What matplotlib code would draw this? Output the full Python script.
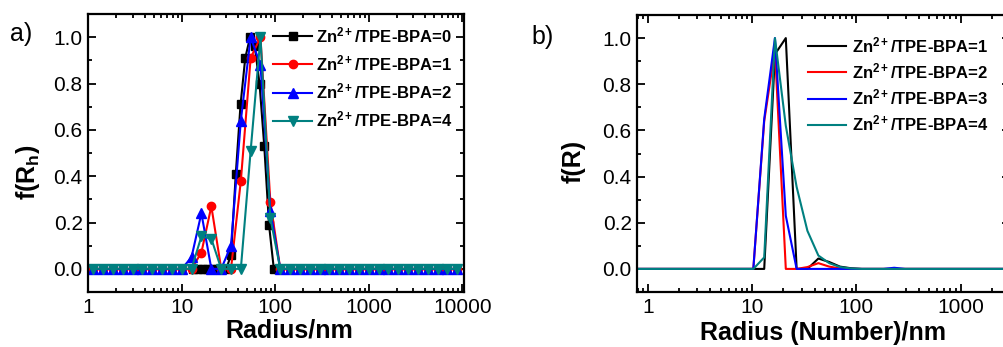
import numpy as np
import matplotlib
matplotlib.use("Agg")
import matplotlib.pyplot as plt
from matplotlib.ticker import MultipleLocator, FuncFormatter, LogLocator

plt.rcParams['font.family'] = ['Liberation Sans', 'DejaVu Sans']
plt.rcParams['mathtext.fontset'] = 'custom'
plt.rcParams['mathtext.rm'] = 'Liberation Sans'
plt.rcParams['mathtext.bf'] = 'Liberation Sans:bold'
plt.rcParams['mathtext.it'] = 'Liberation Sans:italic'

# ---- panel a : intensity distributions (markers) ----
r_grid = [1.13, 1.44, 1.83, 2.34, 2.98, 3.79, 4.83, 6.15, 7.85, 10.0,
          12.7, 16.2, 20.7, 26.4, 33.6, 42.8, 54.5, 69.4, 88.5, 113,
          144, 183, 233, 297, 378, 482, 614, 782, 997, 1270,
          1620, 2060, 2630, 3350, 4260, 5430, 6920, 8830]
f_r1 = [0]*11 + [0.07, 0.27, 0, 0, 0.38, 0.91, 1.0, 0.29] + [0]*19
f_r2 = [0]*10 + [0.05, 0.24, 0, 0, 0.10, 0.64, 1.0, 0.88, 0.25] + [0]*19
f_r4 = [0]*11 + [0.14, 0.13, 0, 0, 0, 0.51, 1.0, 0.22] + [0]*19

r_r0 = [13.2, 14.8, 16.7, 18.7, 21.0, 23.7, 26.6, 29.9, 33.6, 37.8,
        42.5, 47.7, 53.7, 60.3, 67.8, 76.2, 85.7, 96.4, 108]
f_r0 = [0, 0, 0, 0, 0, 0, 0, 0, 0.06, 0.41,
        0.71, 0.91, 1.0, 0.96, 0.80, 0.53, 0.19, 0, 0]

labels_a = [r'Zn$^{\mathbf{2+}}$/TPE-BPA=0', r'Zn$^{\mathbf{2+}}$/TPE-BPA=1',
            r'Zn$^{\mathbf{2+}}$/TPE-BPA=2', r'Zn$^{\mathbf{2+}}$/TPE-BPA=4']

# ---- panel b : number distributions (lines) ----
rb = [0.738, 0.938, 1.19, 1.51, 1.92, 2.44, 3.10, 3.94, 5.01, 6.37, 8.09,
      10.3, 13.1, 16.6, 21.1, 26.8, 34.0, 43.3, 55.0, 69.8, 88.7,
      113, 143, 182, 231, 294, 373, 474, 603, 766, 973,
      1240, 1570, 2000, 2540, 3220]
fb1 = [0]*11 + [0, 0, 0.93, 1.0, 0, 0, 0.045, 0.03, 0.01, 0.003] + [0]*15
fb2 = [0]*11 + [0, 0.64, 0.95, 0, 0, 0.008, 0.025, 0.01, 0.002, 0] + [0]*15
fb3 = [0]*11 + [0, 0.65, 1.0, 0.23, 0, 0, 0, 0, 0, 0] + [0, 0, 0, 0.005] + [0]*11
fb4 = [0]*11 + [0, 0.05, 1.0, 0.62, 0.355, 0.165, 0.058, 0.025, 0.008, 0.002] + [0]*15

labels_b = [r'Zn$^{\mathbf{2+}}$/TPE-BPA=1', r'Zn$^{\mathbf{2+}}$/TPE-BPA=2',
            r'Zn$^{\mathbf{2+}}$/TPE-BPA=3', r'Zn$^{\mathbf{2+}}$/TPE-BPA=4']

colors = ['black', '#ff0000', '#0000ff', '#008080']

W, H = 1004, 347
fig = plt.figure(figsize=(W/100, H/100), dpi=100)

def style_axes(ax):
    ax.set_xscale('log')
    ax.set_ylim(-0.1, 1.1)
    ax.yaxis.set_major_locator(MultipleLocator(0.2))
    ax.yaxis.set_minor_locator(MultipleLocator(0.1))
    ax.yaxis.set_major_formatter(FuncFormatter(lambda v, p: f'{v:.1f}'))
    ax.xaxis.set_major_locator(LogLocator(base=10, numticks=10))
    ax.xaxis.set_minor_locator(LogLocator(base=10, subs=np.arange(2, 10), numticks=20))
    ax.xaxis.set_major_formatter(FuncFormatter(lambda v, p: f'{v:g}'))
    ax.tick_params(which='both', direction='in', top=True, right=True, width=1.3)
    ax.tick_params(which='major', length=6, labelsize=15, pad=4)
    ax.tick_params(which='minor', length=3)
    for s in ax.spines.values():
        s.set_linewidth(1.6)

# panel a
ax1 = fig.add_axes([88.3/W, 1-292/H, 375.7/W, 278/H])
ax1.plot(r_r0, f_r0, '-s', color=colors[0], lw=1.5, ms=5.5, label=labels_a[0])
ax1.plot(r_grid, f_r1, '-o', color=colors[1], lw=1.5, ms=6, label=labels_a[1])
ax1.plot(r_grid, f_r2, '-^', color=colors[2], lw=1.5, ms=6.5, label=labels_a[2])
ax1.plot(r_grid, f_r4, '-v', color=colors[3], lw=1.5, ms=6.5, label=labels_a[3])
style_axes(ax1)
ax1.set_xlim(1, 10**(375.7/93.5))
ax1.set_xlabel('Radius/nm', fontsize=18, fontweight='bold', va='center')
ax1.xaxis.set_label_coords(0.534, -0.137)
ax1.set_ylabel(r'f(R$_{\mathbf{h}}$)', fontsize=18, fontweight='bold', va='center')
ax1.yaxis.set_label_coords(-0.16, 0.43)
ax1.legend(loc='upper left', bbox_to_anchor=(273/W, 1-25/H), bbox_transform=fig.transFigure,
           frameon=False, borderpad=0, borderaxespad=0, handlelength=2.35,
           handletextpad=0.25, labelspacing=0.5,
           prop={'weight': 'bold', 'size': 12})
fig.text(21/W, 1-34/H, 'a)', fontsize=18, ha='center', va='center')

# panel b
ax2 = fig.add_axes([637.3/W, 1-292/H, 372.7/W, 277/H])
for fb, c, lab in zip([fb1, fb2, fb3, fb4], colors, labels_b):
    ax2.plot(rb, fb, '-', color=c, lw=1.5, label=lab)
style_axes(ax2)
ax2.set_xlim(10**(-0.0997), 10**(3.474))
ax2.set_xlabel('Radius (Number)/nm', fontsize=18, fontweight='bold', va='center')
ax2.xaxis.set_label_coords(0.497, -0.148)
ax2.set_ylabel('f(R)', fontsize=18, fontweight='bold', va='center')
ax2.yaxis.set_label_coords(-0.17, 0.473)
ax2.legend(loc='upper left', bbox_to_anchor=(808/W, 1-35/H), bbox_transform=fig.transFigure,
           frameon=False, borderpad=0, borderaxespad=0, handlelength=2.3,
           handletextpad=0.36, labelspacing=0.38,
           prop={'weight': 'bold', 'size': 12})
fig.text(543/W, 1-37/H, 'b)', fontsize=18, ha='center', va='center')

fig.savefig('out.png', dpi=100)
